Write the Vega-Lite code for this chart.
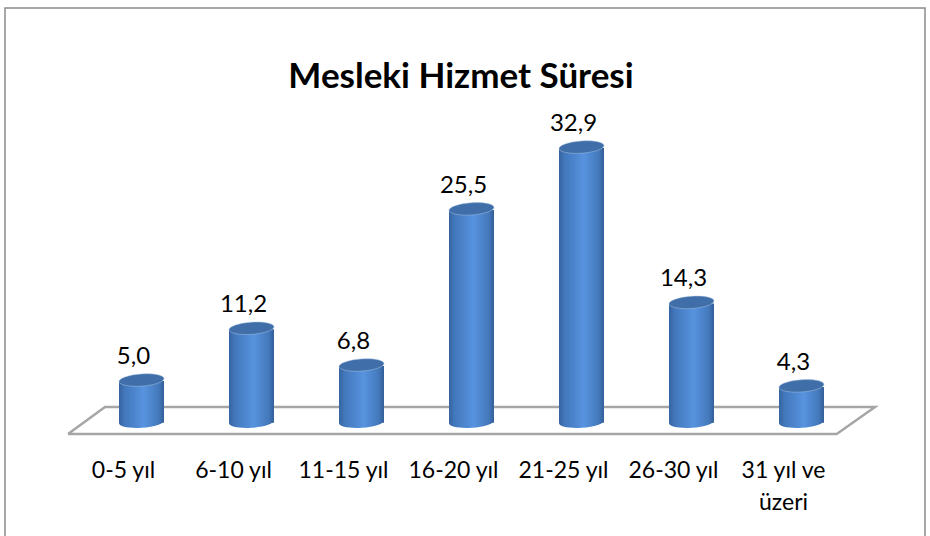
{
"$schema":"https://vega.github.io/schema/vega-lite/v6.json",
"width":920,"height":528,
"autosize":"none",
"padding":{"left":5,"top":8,"right":5,"bottom":0},
"background":"white",
"config":{"view":{"stroke":null},"font":"Lato"},
"title":{"text":"Mesleki Hizmet Süresi","font":"Lato","fontSize":35,"fontWeight":"bold","color":"#000000","anchor":"middle","dx":-4,"offset":-125,"baseline":"bottom"},
"datasets":{
"bars":[
{"kategori":"0-5 yıl","deger":5.0,"etiket":"5,0"},
{"kategori":"6-10 yıl","deger":11.2,"etiket":"11,2"},
{"kategori":"11-15 yıl","deger":6.8,"etiket":"6,8"},
{"kategori":"16-20 yıl","deger":25.5,"etiket":"25,5"},
{"kategori":"21-25 yıl","deger":32.9,"etiket":"32,9"},
{"kategori":"26-30 yıl","deger":14.3,"etiket":"14,3"},
{"kategori":"31 yıl ve|üzeri","deger":4.3,"etiket":"4,3"}],
"zemin":[
{"px":-0.668,"py":-1.46,"s":0},{"px":-0.332,"py":1.77,"s":1},{"px":6.668,"py":1.77,"s":2},{"px":6.32,"py":-1.46,"s":3},{"px":-0.668,"py":-1.46,"s":4}],
"cerceve":[
{"px":-1.2409,"py":-13.68,"s":0},{"px":-1.2409,"py":49.56,"s":1},{"px":7.1227,"py":49.56,"s":2},{"px":7.1227,"py":-13.68,"s":3}]
},
"resolve":{"scale":{"x":"independent"}},
"layer":[
{"layer":[
{"data":{"name":"cerceve"},"mark":{"type":"line","stroke":"#8c8c8c","strokeWidth":1.5},
"encoding":{"x":{"field":"px","type":"quantitative","axis":null,"scale":{"domain":[-1.2409,7.1227],"nice":false,"zero":false}},
"y":{"field":"py","type":"quantitative","axis":null,"scale":{"domain":[-13.68,49.56],"nice":false,"zero":false}},"order":{"field":"s"}}},
{"data":{"name":"zemin"},"mark":{"type":"line","stroke":"#a6a6a6","strokeWidth":2.5},
"encoding":{"x":{"field":"px","type":"quantitative","axis":null},
"y":{"field":"py","type":"quantitative","axis":null},"order":{"field":"s"}}}
]},
{"data":{"name":"bars"},
"encoding":{"x":{"field":"kategori","type":"nominal","sort":null,
"scale":{"type":"point","range":[136.5,796.5],"padding":0},
"axis":{"orient":"bottom","offset":-76.5,"title":null,"domain":false,"ticks":false,"labelAngle":0,"labelFont":"Lato","labelFontSize":23,"labelColor":"#000000","labelPadding":0,"labelOffset":-18.5,"labelBaseline":"top","labelLineHeight":32,"labelLimit":0,"labelOverlap":false,"labelExpr":"split(datum.label,'|')"}}},
"layer":[
{"mark":{"type":"point","filled":true,"opacity":1,"size":2025,"shape":"M -1 0.07 A 1 0.27 -4 1 1 1 -0.07 A 1 0.27 -4 1 1 -1 0.07 Z",
"fill":{"x1":0,"y1":0,"x2":1,"y2":0,"gradient":"linear","stops":[{"offset":0,"color":"#35639f"},{"offset":0.12,"color":"#4277bb"},{"offset":0.55,"color":"#5793df"},{"offset":0.88,"color":"#4479bb"},{"offset":1,"color":"#345f99"}]}},
"encoding":{"y":{"datum":0,"type":"quantitative","axis":null}}},
{"mark":{"type":"bar","size":45,"yOffset":1,
"fill":{"x1":0,"y1":0,"x2":1,"y2":0,"gradient":"linear","stops":[{"offset":0,"color":"#35639f"},{"offset":0.12,"color":"#4277bb"},{"offset":0.55,"color":"#5793df"},{"offset":0.88,"color":"#4479bb"},{"offset":1,"color":"#345f99"}]}},
"encoding":{"y":{"field":"deger","type":"quantitative","axis":null}}},
{"mark":{"type":"point","filled":true,"opacity":1,"size":2025,"fill":"#3f6ea8","stroke":"#a9c3e3","strokeWidth":0.5,"shape":"M -1 0.07 A 1 0.27 -4 1 1 1 -0.07 A 1 0.27 -4 1 1 -1 0.07 Z"},
"encoding":{"y":{"field":"deger","type":"quantitative","axis":null}}},
{"mark":{"type":"text","font":"Lato","fontSize":24,"color":"#000000","dx":-8,"dy":-23},
"encoding":{"y":{"field":"deger","type":"quantitative","axis":null},"text":{"field":"etiket"}}}
]}
]
}
